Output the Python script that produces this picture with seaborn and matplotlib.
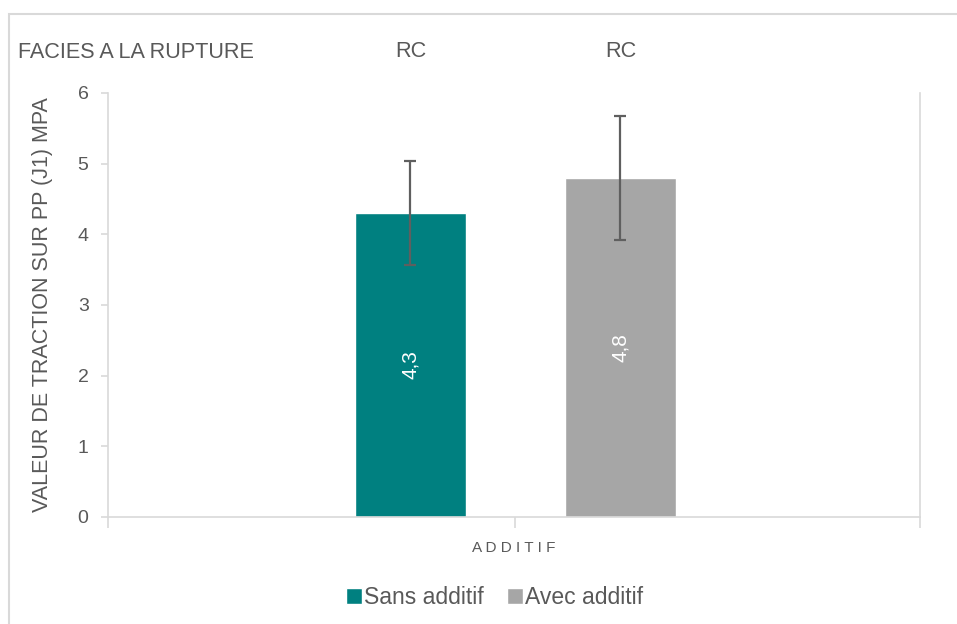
import pandas as pd
import matplotlib.pyplot as plt
import seaborn as sns
from matplotlib.lines import Line2D
from matplotlib.patches import Rectangle

# data
series = ["Sans additif", "Avec additif"]
values = [4.3, 4.8]
errors = [0.74, 0.88]
labels = ["4,3", "4,8"]
facies = ["RC", "RC"]
colors = ["#008080", "#A6A6A6"]

df = pd.DataFrame({"serie": series, "valeur": values})

sns.set_style("white")
plt.rcParams["font.family"] = ["Liberation Sans", "DejaVu Sans"]
grey_txt = "#595959"
grid_c = "#D9D9D9"

fig = plt.figure(figsize=(9.57, 6.24), dpi=100)
ax = fig.add_axes([0.1129, 0.1715, 0.8484, 0.6795])

sns.barplot(data=df, x="serie", y="valeur", hue="serie", palette=colors,
            width=0.529, errorbar=None, legend=False, saturation=1, ax=ax)

# error bars
ax.errorbar(range(len(values)), values, yerr=errors, fmt="none",
            ecolor="#5f5f5f", elinewidth=1.6, capsize=4.5, capthick=1.6)

# data labels inside bars
for i, (v, lab) in enumerate(zip(values, labels)):
    ax.text(i, v / 2, lab, rotation=90, color="white", fontsize=15,
            ha="center", va="center")

# facies row above the plot
fig.text(18 / 957, 1 - 52 / 624, "FACIES A LA RUPTURE", fontsize=15.6,
         color=grey_txt, ha="left", va="center")
for i, f in enumerate(facies):
    ax.text(i, 6.58, f, fontsize=15.6, color=grey_txt, ha="center",
            va="center", clip_on=False)

ax.set_xlim(-1.44, 2.426)
ax.set_ylim(0, 6)
ax.set_yticks(range(0, 7))
ax.set_xticks([-1.44, 0.5, 2.426])
ax.set_xticklabels([])
ax.tick_params(axis="y", left=True, labelsize=14, labelcolor=grey_txt,
               length=5, color=grid_c, width=1.2, pad=9)
ax.tick_params(axis="x", bottom=True, length=8, color=grid_c, width=1.2)

for side in ["left", "right", "bottom"]:
    ax.spines[side].set_visible(True)
    ax.spines[side].set_color(grid_c)
    ax.spines[side].set_linewidth(1.2)
ax.spines["top"].set_visible(False)

ax.set_xlabel("A D D I T I F", fontsize=11, color=grey_txt, labelpad=6)
ax.set_ylabel("VALEUR DE TRACTION SUR PP (J1) MPA", fontsize=15.5,
              color=grey_txt, labelpad=18)

handles = [Line2D([0], [0], marker="s", color="w", markerfacecolor=c,
                  markersize=11, linestyle="") for c in colors]
fig.legend(handles, series, loc="center", bbox_to_anchor=(0.512, 0.043),
           ncol=2, frameon=False, fontsize=16.5, handletextpad=-0.3,
           handlelength=1.5, columnspacing=0.6, labelcolor=grey_txt)

# outer chart border
fig.patches.append(Rectangle((9 / 957, -0.05), 1.0, 1 - 14 / 624 + 0.05,
                             transform=fig.transFigure, fill=False,
                             edgecolor=grid_c, linewidth=1.5))

fig.savefig("out.png", dpi=100)
